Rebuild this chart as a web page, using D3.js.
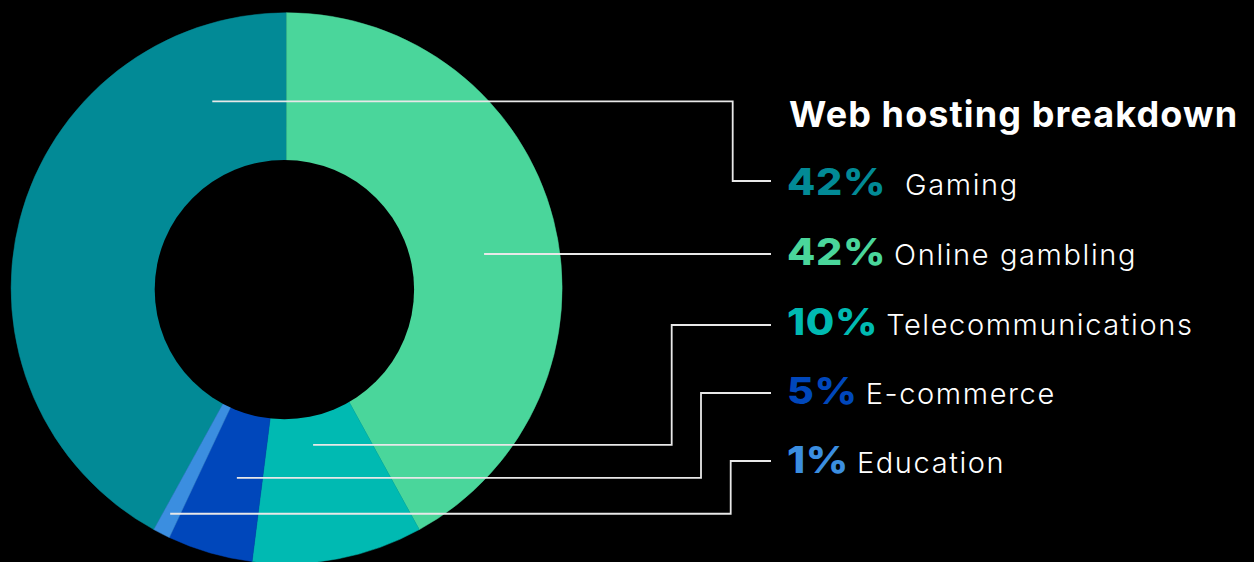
<!DOCTYPE html>
<html>
<head>
<meta charset="utf-8">
<script src="https://cdn.jsdelivr.net/npm/d3@7"></script>
<style>
  html, body { margin: 0; padding: 0; background: #000; }
  svg { display: block; }
</style>
</head>
<body>
<svg id="chart" width="1254" height="562"></svg>
<script>
// ---- data ----
const title = "Web hosting breakdown";
const categories = ["Gaming", "Online gambling", "Telecommunications", "E-commerce", "Education"];
const values = [42, 42, 10, 5, 1];
const colors = ["#028a96", "#4ad69b", "#00bab2", "#0047bb", "#3b8ee0"];
// order of slices clockwise from 12 o'clock
const pieOrder = ["Online gambling", "Telecommunications", "E-commerce", "Education", "Gaming"];

// ---- layout ----
const cx = 286.6, cy = 288.2, outerR = 275.5;
const hole = { x: 284.4, y: 289.6, r: 129.7 };
// leader anchors: [angle in degrees from 12 o'clock, radius]
const leaderAnchor = [[338.3, 201], [80.2, 200.4], [170.4, 159], [194.7, 196], [207.3, 253.8]];
const leaderElbowX = [732.7, null, 671.7, 701, 730.7];
const rowLineY = [181, 254, 325, 393, 461];
const rowBaseline = [195, 265, 335, 404, 473];
const legendX = 787, leaderEndX = 771;
const pctScale = 1.1;

const svg = d3.select("#chart");
const data = categories.map((c, i) => ({ cat: c, value: values[i], color: colors[i], i }));

const pie = d3.pie().sort((a, b) => pieOrder.indexOf(a.cat) - pieOrder.indexOf(b.cat)).value(d => d.value);
const arc = d3.arc().innerRadius(0).outerRadius(outerR);

const g = svg.append("g").attr("transform", `translate(${cx},${cy})`);
g.selectAll("path.slice").data(pie(data)).join("path")
  .attr("class", "slice")
  .attr("d", arc)
  .attr("fill", d => d.data.color)
  .attr("stroke", d => d.data.color)
  .attr("stroke-width", 0.5);

svg.append("circle").attr("cx", hole.x).attr("cy", hole.y).attr("r", hole.r).attr("fill", "#000");

// leader lines
const leaders = svg.append("g");
data.forEach((d, i) => {
  const [a, r] = leaderAnchor[i];
  const p = d3.pointRadial(a * Math.PI / 180, r);
  const sx = cx + p[0], sy = cy + p[1];
  const ey = rowLineY[i];
  let path;
  if (leaderElbowX[i] == null) {
    path = `M${sx},${ey}H${leaderEndX}`;
  } else {
    path = `M${sx},${sy}H${leaderElbowX[i]}V${ey}H${leaderEndX}`;
  }
  leaders.append("path").attr("d", path)
    .attr("fill", "none").attr("stroke", "#e8e8e8").attr("stroke-width", 1.8);
});

// title
svg.append("text")
  .attr("x", 789).attr("y", 127)
  .attr("fill", "#fff")
  .attr("font-family", "Inter, 'Open Sans', sans-serif")
  .attr("font-weight", 700)
  .attr("font-size", 36)
  .attr("letter-spacing", 1.1)
  .text(title);

// legend
const legend = svg.append("g");
data.forEach((d, i) => {
  const y = rowBaseline[i];
  const pct = legend.append("text")
    .attr("x", legendX).attr("y", y)
    .attr("fill", d.color)
    .attr("font-family", "Inter, 'Open Sans', sans-serif")
    .attr("font-weight", 800)
    .attr("font-size", 37.5)
    .attr("transform", `translate(${legendX},0) scale(${pctScale},1) translate(${-legendX},0)`)
    .attr("letter-spacing", 0.6)
    .text(d.value + "%");
  const w = pct.node().getComputedTextLength() * pctScale;
  legend.append("text")
    .attr("x", legendX + w + (i === 0 ? 19 : 8)).attr("y", y)
    .attr("fill", "#fff")
    .attr("font-family", "Inter, 'Open Sans', sans-serif")
    .attr("font-weight", 300)
    .attr("font-size", 29)
    .attr("letter-spacing", 1.6)
    .text(d.cat);
});
</script>
</body>
</html>
